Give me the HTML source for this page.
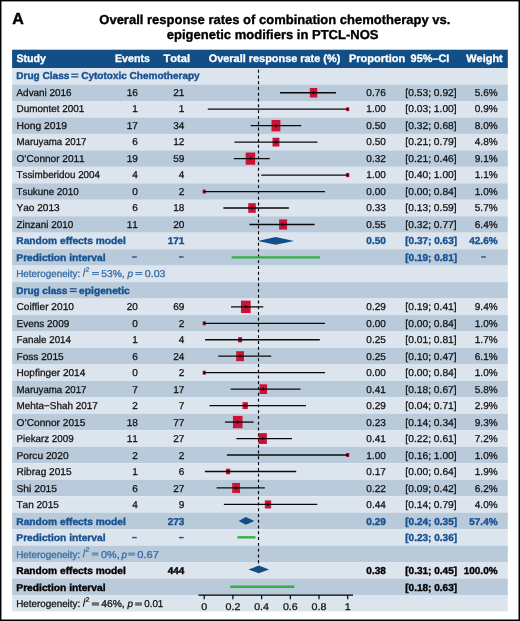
<!DOCTYPE html>
<html><head><meta charset="utf-8"><style>
html,body{margin:0;padding:0;background:#fff;width:520px;height:621px;overflow:hidden;}
svg{display:block;will-change:transform;}
text{font-family:"Liberation Sans", sans-serif;font-kerning:none;}
</style></head><body>
<svg width="520" height="621" viewBox="0 0 520 621" font-family="Liberation Sans, sans-serif" text-rendering="geometricPrecision">
<rect x="0" y="0" width="520" height="621" fill="#000"/>
<rect x="1.45" y="1.4" width="517.05" height="618.10" fill="#fff"/>
<text x="12.3" y="23.75" font-size="16" font-weight="bold" fill="#000" stroke="#000" stroke-width="0.45">A</text>
<text x="99.3" y="23.6" font-size="13" font-weight="bold" fill="#000" stroke="#000" stroke-width="0.35">Overall response rates of combination chemotherapy vs.</text>
<text x="166.8" y="38.8" font-size="13" font-weight="bold" fill="#000" stroke="#000" stroke-width="0.35">epigenetic modifiers in PTCL-NOS</text>
<rect x="12.1" y="49.7" width="495.70" height="18.35" fill="#124f87"/>
<rect x="12.1" y="68.05" width="495.70" height="16.47" fill="#dce5ee"/>
<rect x="12.1" y="84.52" width="495.70" height="16.47" fill="#b9cbdb"/>
<rect x="12.1" y="100.98" width="495.70" height="16.47" fill="#dce5ee"/>
<rect x="12.1" y="117.45" width="495.70" height="16.47" fill="#b9cbdb"/>
<rect x="12.1" y="133.92" width="495.70" height="16.47" fill="#dce5ee"/>
<rect x="12.1" y="150.38" width="495.70" height="16.47" fill="#b9cbdb"/>
<rect x="12.1" y="166.85" width="495.70" height="16.47" fill="#dce5ee"/>
<rect x="12.1" y="183.31" width="495.70" height="16.47" fill="#b9cbdb"/>
<rect x="12.1" y="199.78" width="495.70" height="16.47" fill="#dce5ee"/>
<rect x="12.1" y="216.25" width="495.70" height="16.47" fill="#b9cbdb"/>
<rect x="12.1" y="232.71" width="495.70" height="16.47" fill="#dce5ee"/>
<rect x="12.1" y="249.18" width="495.70" height="16.47" fill="#b9cbdb"/>
<rect x="12.1" y="265.65" width="495.70" height="16.47" fill="#dce5ee"/>
<rect x="12.1" y="282.11" width="495.70" height="16.47" fill="#b9cbdb"/>
<rect x="12.1" y="298.58" width="495.70" height="16.47" fill="#dce5ee"/>
<rect x="12.1" y="315.05" width="495.70" height="16.47" fill="#b9cbdb"/>
<rect x="12.1" y="331.51" width="495.70" height="16.47" fill="#dce5ee"/>
<rect x="12.1" y="347.98" width="495.70" height="16.47" fill="#b9cbdb"/>
<rect x="12.1" y="364.44" width="495.70" height="16.47" fill="#dce5ee"/>
<rect x="12.1" y="380.91" width="495.70" height="16.47" fill="#b9cbdb"/>
<rect x="12.1" y="397.38" width="495.70" height="16.47" fill="#dce5ee"/>
<rect x="12.1" y="413.84" width="495.70" height="16.47" fill="#b9cbdb"/>
<rect x="12.1" y="430.31" width="495.70" height="16.47" fill="#dce5ee"/>
<rect x="12.1" y="446.78" width="495.70" height="16.47" fill="#b9cbdb"/>
<rect x="12.1" y="463.24" width="495.70" height="16.47" fill="#dce5ee"/>
<rect x="12.1" y="479.71" width="495.70" height="16.47" fill="#b9cbdb"/>
<rect x="12.1" y="496.18" width="495.70" height="16.47" fill="#dce5ee"/>
<rect x="12.1" y="512.64" width="495.70" height="16.47" fill="#b9cbdb"/>
<rect x="12.1" y="529.11" width="495.70" height="16.47" fill="#dce5ee"/>
<rect x="12.1" y="545.57" width="495.70" height="16.47" fill="#b9cbdb"/>
<rect x="12.1" y="562.04" width="495.70" height="16.47" fill="#dce5ee"/>
<rect x="12.1" y="578.51" width="495.70" height="16.47" fill="#b9cbdb"/>
<rect x="12.1" y="594.97" width="495.70" height="16.47" fill="#dce5ee"/>
<line x1="198.4" y1="595.05" x2="353" y2="595.05" stroke="#000" stroke-width="1.3"/>
<line x1="204.20" y1="595.05" x2="204.20" y2="599.25" stroke="#000" stroke-width="1.2"/>
<line x1="232.90" y1="595.05" x2="232.90" y2="599.25" stroke="#000" stroke-width="1.2"/>
<line x1="261.60" y1="595.05" x2="261.60" y2="599.25" stroke="#000" stroke-width="1.2"/>
<line x1="290.30" y1="595.05" x2="290.30" y2="599.25" stroke="#000" stroke-width="1.2"/>
<line x1="319.00" y1="595.05" x2="319.00" y2="599.25" stroke="#000" stroke-width="1.2"/>
<line x1="347.70" y1="595.05" x2="347.70" y2="599.25" stroke="#000" stroke-width="1.2"/>
<line x1="258.5" y1="69.75" x2="258.5" y2="563.5" stroke="#000" stroke-width="1.15" stroke-dasharray="2.95 2.82"/>
<rect x="309.81" y="87.98" width="7.45" height="9.54" fill="#cc1236"/>
<line x1="280.02" y1="92.75" x2="335.91" y2="92.75" stroke="#0a0a0a" stroke-width="1.3"/>
<polygon points="312.53,92.75 313.53,90.95 314.53,92.75 313.53,94.55" fill="#000"/>
<rect x="346.21" y="107.30" width="2.99" height="3.83" fill="#cc1236"/>
<line x1="207.79" y1="109.22" x2="347.70" y2="109.22" stroke="#0a0a0a" stroke-width="1.3"/>
<polygon points="346.70,109.22 347.70,107.42 348.70,109.22 347.70,111.02" fill="#000"/>
<rect x="271.50" y="119.98" width="8.91" height="11.40" fill="#cc1236"/>
<line x1="250.73" y1="125.68" x2="301.17" y2="125.68" stroke="#0a0a0a" stroke-width="1.3"/>
<polygon points="274.95,125.68 275.95,123.88 276.95,125.68 275.95,127.48" fill="#000"/>
<rect x="272.50" y="137.73" width="6.90" height="8.83" fill="#cc1236"/>
<line x1="234.47" y1="142.15" x2="317.43" y2="142.15" stroke="#0a0a0a" stroke-width="1.3"/>
<polygon points="274.95,142.15 275.95,140.35 276.95,142.15 275.95,143.95" fill="#000"/>
<rect x="245.66" y="152.53" width="9.50" height="12.16" fill="#cc1236"/>
<line x1="233.80" y1="158.62" x2="269.69" y2="158.62" stroke="#0a0a0a" stroke-width="1.3"/>
<polygon points="249.41,158.62 250.41,156.81 251.41,158.62 250.41,160.42" fill="#000"/>
<rect x="346.05" y="172.97" width="3.30" height="4.23" fill="#cc1236"/>
<line x1="261.26" y1="175.08" x2="347.70" y2="175.08" stroke="#0a0a0a" stroke-width="1.3"/>
<polygon points="346.70,175.08 347.70,173.28 348.70,175.08 347.70,176.88" fill="#000"/>
<rect x="202.62" y="189.53" width="3.15" height="4.03" fill="#cc1236"/>
<line x1="204.20" y1="191.55" x2="325.01" y2="191.55" stroke="#0a0a0a" stroke-width="1.3"/>
<polygon points="203.20,191.55 204.20,189.75 205.20,191.55 204.20,193.35" fill="#000"/>
<rect x="248.27" y="203.20" width="7.52" height="9.63" fill="#cc1236"/>
<line x1="223.35" y1="208.01" x2="288.88" y2="208.01" stroke="#0a0a0a" stroke-width="1.3"/>
<polygon points="251.03,208.01 252.03,206.21 253.03,208.01 252.03,209.81" fill="#000"/>
<rect x="279.14" y="219.38" width="7.97" height="10.20" fill="#cc1236"/>
<line x1="249.44" y1="224.48" x2="314.61" y2="224.48" stroke="#0a0a0a" stroke-width="1.3"/>
<polygon points="282.12,224.48 283.12,222.68 284.12,224.48 283.12,226.28" fill="#000"/>
<polygon points="257.73,240.95 275.66,237.10 294.03,240.95 275.66,244.80" fill="#124f87"/>
<line x1="231.66" y1="257.41" x2="320.13" y2="257.41" stroke="#33af46" stroke-width="2.4"/>
<rect x="240.97" y="300.63" width="9.66" height="12.36" fill="#cc1236"/>
<line x1="231.02" y1="306.81" x2="263.26" y2="306.81" stroke="#0a0a0a" stroke-width="1.3"/>
<polygon points="244.79,306.81 245.79,305.01 246.79,306.81 245.79,308.61" fill="#000"/>
<rect x="202.62" y="321.26" width="3.15" height="4.03" fill="#cc1236"/>
<line x1="204.20" y1="323.28" x2="325.01" y2="323.28" stroke="#0a0a0a" stroke-width="1.3"/>
<polygon points="203.20,323.28 204.20,321.48 205.20,323.28 204.20,325.08" fill="#000"/>
<rect x="238.02" y="337.12" width="4.11" height="5.26" fill="#cc1236"/>
<line x1="205.11" y1="339.75" x2="319.84" y2="339.75" stroke="#0a0a0a" stroke-width="1.3"/>
<polygon points="239.07,339.75 240.07,337.95 241.07,339.75 240.07,341.55" fill="#000"/>
<rect x="236.19" y="351.23" width="7.78" height="9.96" fill="#cc1236"/>
<line x1="218.22" y1="356.21" x2="271.23" y2="356.21" stroke="#0a0a0a" stroke-width="1.3"/>
<polygon points="239.07,356.21 240.07,354.41 241.07,356.21 240.07,358.01" fill="#000"/>
<rect x="202.62" y="370.66" width="3.15" height="4.03" fill="#cc1236"/>
<line x1="204.20" y1="372.68" x2="325.01" y2="372.68" stroke="#0a0a0a" stroke-width="1.3"/>
<polygon points="203.20,372.68 204.20,370.88 205.20,372.68 204.20,374.48" fill="#000"/>
<rect x="259.50" y="384.29" width="7.59" height="9.71" fill="#cc1236"/>
<line x1="230.67" y1="389.14" x2="300.45" y2="389.14" stroke="#0a0a0a" stroke-width="1.3"/>
<polygon points="262.29,389.14 263.29,387.34 264.29,389.14 263.29,390.94" fill="#000"/>
<rect x="242.52" y="402.18" width="5.36" height="6.87" fill="#cc1236"/>
<line x1="209.47" y1="405.61" x2="306.02" y2="405.61" stroke="#0a0a0a" stroke-width="1.3"/>
<polygon points="244.20,405.61 245.20,403.81 246.20,405.61 245.20,407.41" fill="#000"/>
<rect x="232.94" y="415.93" width="9.61" height="12.30" fill="#cc1236"/>
<line x1="224.98" y1="422.08" x2="253.57" y2="422.08" stroke="#0a0a0a" stroke-width="1.3"/>
<polygon points="236.75,422.08 237.75,420.28 238.75,422.08 237.75,423.88" fill="#000"/>
<rect x="258.44" y="433.13" width="8.45" height="10.82" fill="#cc1236"/>
<line x1="236.33" y1="438.54" x2="292.02" y2="438.54" stroke="#0a0a0a" stroke-width="1.3"/>
<polygon points="261.66,438.54 262.66,436.74 263.66,438.54 262.66,440.34" fill="#000"/>
<rect x="346.12" y="452.99" width="3.15" height="4.03" fill="#cc1236"/>
<line x1="226.89" y1="455.01" x2="347.70" y2="455.01" stroke="#0a0a0a" stroke-width="1.3"/>
<polygon points="346.70,455.01 347.70,453.21 348.70,455.01 347.70,456.81" fill="#000"/>
<rect x="225.95" y="468.70" width="4.34" height="5.56" fill="#cc1236"/>
<line x1="204.80" y1="471.48" x2="296.22" y2="471.48" stroke="#0a0a0a" stroke-width="1.3"/>
<polygon points="227.12,471.48 228.12,469.68 229.12,471.48 228.12,473.28" fill="#000"/>
<rect x="232.17" y="482.92" width="7.84" height="10.04" fill="#cc1236"/>
<line x1="216.57" y1="487.94" x2="264.84" y2="487.94" stroke="#0a0a0a" stroke-width="1.3"/>
<polygon points="235.09,487.94 236.09,486.14 237.09,487.94 236.09,489.74" fill="#000"/>
<rect x="264.83" y="500.38" width="6.30" height="8.06" fill="#cc1236"/>
<line x1="223.86" y1="504.41" x2="317.28" y2="504.41" stroke="#0a0a0a" stroke-width="1.3"/>
<polygon points="266.98,504.41 267.98,502.61 268.98,504.41 267.98,506.21" fill="#000"/>
<polygon points="238.64,520.88 245.81,517.02 254.42,520.88 245.81,524.73" fill="#124f87"/>
<line x1="237.40" y1="537.34" x2="255.56" y2="537.34" stroke="#33af46" stroke-width="2.4"/>
<polygon points="248.38,569.47 258.73,565.62 269.07,569.47 258.73,573.32" fill="#124f87"/>
<line x1="230.23" y1="586.74" x2="294.31" y2="586.74" stroke="#33af46" stroke-width="2.4"/>
<text transform="translate(16.49,62.20) scale(0.9821,1)" font-size="10.8" font-weight="bold" fill="#ffffff" stroke="#ffffff" stroke-width="0.32">Study</text>
<text transform="translate(114.99,62.20) scale(0.9839,1)" font-size="10.8" font-weight="bold" fill="#ffffff" stroke="#ffffff" stroke-width="0.32">Events</text>
<text transform="translate(163.48,62.20) scale(1.0276,1)" font-size="10.8" font-weight="bold" fill="#ffffff" stroke="#ffffff" stroke-width="0.32">Total</text>
<text transform="translate(208.75,62.20) scale(1.0103,1)" font-size="10.8" font-weight="bold" fill="#ffffff" stroke="#ffffff" stroke-width="0.32">Overall response rate (%)</text>
<text transform="translate(348.96,62.20) scale(1.0205,1)" font-size="10.8" font-weight="bold" fill="#ffffff" stroke="#ffffff" stroke-width="0.32">Proportion</text>
<text transform="translate(410.62,62.20) scale(1.0074,1)" font-size="10.8" font-weight="bold" fill="#ffffff" stroke="#ffffff" stroke-width="0.32">95%–CI</text>
<text transform="translate(466.29,62.20) scale(1.0126,1)" font-size="10.8" font-weight="bold" fill="#ffffff" stroke="#ffffff" stroke-width="0.32">Weight</text>
<text transform="translate(16.33,78.76) scale(1.0036,1)" font-size="10.0" font-weight="bold" fill="#175190" stroke="#175190" stroke-width="0.38">Drug Class</text>
<text transform="translate(81.19,78.76) scale(1.0009,1)" font-size="10.0" font-weight="bold" fill="#175190" stroke="#175190" stroke-width="0.38">Cytotoxic Chemotherapy</text>
<text transform="translate(16.50,95.52) scale(0.9916,1)" font-size="10.0" fill="#121212" stroke="#121212" stroke-width="0.27">Advani 2016</text>
<text transform="translate(126.68,95.52) scale(1.0000,1)" font-size="10.0" fill="#121212" stroke="#121212" stroke-width="0.27">16</text>
<text transform="translate(173.28,95.52) scale(1.0000,1)" font-size="10.0" fill="#121212" stroke="#121212" stroke-width="0.27">21</text>
<text transform="translate(366.34,95.52) scale(1.0000,1)" font-size="10.0" fill="#121212" stroke="#121212" stroke-width="0.27">0.76</text>
<text transform="translate(405.37,95.52) scale(1.0244,1)" font-size="10.0" fill="#121212" stroke="#121212" stroke-width="0.27">[0.53; 0.92]</text>
<text transform="translate(474.81,95.52) scale(1.0000,1)" font-size="10.0" fill="#121212" stroke="#121212" stroke-width="0.27">5.6%</text>
<text transform="translate(16.51,112.03) scale(0.9912,1)" font-size="10.0" fill="#121212" stroke="#121212" stroke-width="0.27">Dumontet 2001</text>
<text transform="translate(132.24,112.03) scale(1.0000,1)" font-size="10.0" fill="#121212" stroke="#121212" stroke-width="0.27">1</text>
<text transform="translate(178.84,112.03) scale(1.0000,1)" font-size="10.0" fill="#121212" stroke="#121212" stroke-width="0.27">1</text>
<text transform="translate(366.34,112.03) scale(1.0000,1)" font-size="10.0" fill="#121212" stroke="#121212" stroke-width="0.27">1.00</text>
<text transform="translate(405.37,112.03) scale(1.0244,1)" font-size="10.0" fill="#121212" stroke="#121212" stroke-width="0.27">[0.03; 1.00]</text>
<text transform="translate(474.81,112.03) scale(1.0000,1)" font-size="10.0" fill="#121212" stroke="#121212" stroke-width="0.27">0.9%</text>
<text transform="translate(16.48,128.53) scale(1.0303,1)" font-size="10.0" fill="#121212" stroke="#121212" stroke-width="0.27">Hong 2019</text>
<text transform="translate(126.68,128.53) scale(1.0000,1)" font-size="10.0" fill="#121212" stroke="#121212" stroke-width="0.27">17</text>
<text transform="translate(173.28,128.53) scale(1.0000,1)" font-size="10.0" fill="#121212" stroke="#121212" stroke-width="0.27">34</text>
<text transform="translate(366.34,128.53) scale(1.0000,1)" font-size="10.0" fill="#121212" stroke="#121212" stroke-width="0.27">0.50</text>
<text transform="translate(405.37,128.53) scale(1.0244,1)" font-size="10.0" fill="#121212" stroke="#121212" stroke-width="0.27">[0.32; 0.68]</text>
<text transform="translate(474.81,128.53) scale(1.0000,1)" font-size="10.0" fill="#121212" stroke="#121212" stroke-width="0.27">8.0%</text>
<text transform="translate(16.53,145.04) scale(0.9668,1)" font-size="10.0" fill="#121212" stroke="#121212" stroke-width="0.27">Maruyama 2017</text>
<text transform="translate(132.24,145.04) scale(1.0000,1)" font-size="10.0" fill="#121212" stroke="#121212" stroke-width="0.27">6</text>
<text transform="translate(173.28,145.04) scale(1.0000,1)" font-size="10.0" fill="#121212" stroke="#121212" stroke-width="0.27">12</text>
<text transform="translate(366.34,145.04) scale(1.0000,1)" font-size="10.0" fill="#121212" stroke="#121212" stroke-width="0.27">0.50</text>
<text transform="translate(405.37,145.04) scale(1.0244,1)" font-size="10.0" fill="#121212" stroke="#121212" stroke-width="0.27">[0.21; 0.79]</text>
<text transform="translate(474.81,145.04) scale(1.0000,1)" font-size="10.0" fill="#121212" stroke="#121212" stroke-width="0.27">4.8%</text>
<text transform="translate(16.50,161.54) scale(1.0055,1)" font-size="10.0" fill="#121212" stroke="#121212" stroke-width="0.27">O’Connor 2011</text>
<text transform="translate(126.68,161.54) scale(1.0000,1)" font-size="10.0" fill="#121212" stroke="#121212" stroke-width="0.27">19</text>
<text transform="translate(173.28,161.54) scale(1.0000,1)" font-size="10.0" fill="#121212" stroke="#121212" stroke-width="0.27">59</text>
<text transform="translate(366.34,161.54) scale(1.0000,1)" font-size="10.0" fill="#121212" stroke="#121212" stroke-width="0.27">0.32</text>
<text transform="translate(405.37,161.54) scale(1.0244,1)" font-size="10.0" fill="#121212" stroke="#121212" stroke-width="0.27">[0.21; 0.46]</text>
<text transform="translate(474.81,161.54) scale(1.0000,1)" font-size="10.0" fill="#121212" stroke="#121212" stroke-width="0.27">9.1%</text>
<text transform="translate(16.50,178.05) scale(0.9817,1)" font-size="10.0" fill="#121212" stroke="#121212" stroke-width="0.27">Tssimberidou 2004</text>
<text transform="translate(132.24,178.05) scale(1.0000,1)" font-size="10.0" fill="#121212" stroke="#121212" stroke-width="0.27">4</text>
<text transform="translate(178.84,178.05) scale(1.0000,1)" font-size="10.0" fill="#121212" stroke="#121212" stroke-width="0.27">4</text>
<text transform="translate(366.34,178.05) scale(1.0000,1)" font-size="10.0" fill="#121212" stroke="#121212" stroke-width="0.27">1.00</text>
<text transform="translate(405.37,178.05) scale(1.0244,1)" font-size="10.0" fill="#121212" stroke="#121212" stroke-width="0.27">[0.40; 1.00]</text>
<text transform="translate(474.81,178.05) scale(1.0000,1)" font-size="10.0" fill="#121212" stroke="#121212" stroke-width="0.27">1.1%</text>
<text transform="translate(16.50,194.56) scale(0.9811,1)" font-size="10.0" fill="#121212" stroke="#121212" stroke-width="0.27">Tsukune 2010</text>
<text transform="translate(132.24,194.56) scale(1.0000,1)" font-size="10.0" fill="#121212" stroke="#121212" stroke-width="0.27">0</text>
<text transform="translate(178.84,194.56) scale(1.0000,1)" font-size="10.0" fill="#121212" stroke="#121212" stroke-width="0.27">2</text>
<text transform="translate(366.34,194.56) scale(1.0000,1)" font-size="10.0" fill="#121212" stroke="#121212" stroke-width="0.27">0.00</text>
<text transform="translate(405.37,194.56) scale(1.0244,1)" font-size="10.0" fill="#121212" stroke="#121212" stroke-width="0.27">[0.00; 0.84]</text>
<text transform="translate(474.81,194.56) scale(1.0000,1)" font-size="10.0" fill="#121212" stroke="#121212" stroke-width="0.27">1.0%</text>
<text transform="translate(16.50,211.06) scale(1.0076,1)" font-size="10.0" fill="#121212" stroke="#121212" stroke-width="0.27">Yao 2013</text>
<text transform="translate(132.24,211.06) scale(1.0000,1)" font-size="10.0" fill="#121212" stroke="#121212" stroke-width="0.27">6</text>
<text transform="translate(173.28,211.06) scale(1.0000,1)" font-size="10.0" fill="#121212" stroke="#121212" stroke-width="0.27">18</text>
<text transform="translate(366.34,211.06) scale(1.0000,1)" font-size="10.0" fill="#121212" stroke="#121212" stroke-width="0.27">0.33</text>
<text transform="translate(405.37,211.06) scale(1.0244,1)" font-size="10.0" fill="#121212" stroke="#121212" stroke-width="0.27">[0.13; 0.59]</text>
<text transform="translate(474.81,211.06) scale(1.0000,1)" font-size="10.0" fill="#121212" stroke="#121212" stroke-width="0.27">5.7%</text>
<text transform="translate(16.50,227.57) scale(0.9899,1)" font-size="10.0" fill="#121212" stroke="#121212" stroke-width="0.27">Zinzani 2010</text>
<text transform="translate(126.68,227.57) scale(1.0000,1)" font-size="10.0" fill="#121212" stroke="#121212" stroke-width="0.27">11</text>
<text transform="translate(173.28,227.57) scale(1.0000,1)" font-size="10.0" fill="#121212" stroke="#121212" stroke-width="0.27">20</text>
<text transform="translate(366.34,227.57) scale(1.0000,1)" font-size="10.0" fill="#121212" stroke="#121212" stroke-width="0.27">0.55</text>
<text transform="translate(405.37,227.57) scale(1.0244,1)" font-size="10.0" fill="#121212" stroke="#121212" stroke-width="0.27">[0.32; 0.77]</text>
<text transform="translate(474.81,227.57) scale(1.0000,1)" font-size="10.0" fill="#121212" stroke="#121212" stroke-width="0.27">6.4%</text>
<text transform="translate(16.32,244.07) scale(1.0202,1)" font-size="10.0" font-weight="bold" fill="#175190" stroke="#175190" stroke-width="0.38">Random effects model</text>
<text transform="translate(167.72,244.07) scale(1.0000,1)" font-size="10.0" font-weight="bold" fill="#175190" stroke="#175190" stroke-width="0.38">171</text>
<text transform="translate(366.34,244.07) scale(1.0000,1)" font-size="10.0" font-weight="bold" fill="#175190" stroke="#175190" stroke-width="0.38">0.50</text>
<text transform="translate(405.24,244.07) scale(1.0025,1)" font-size="10.0" font-weight="bold" fill="#175190" stroke="#175190" stroke-width="0.38">[0.37; 0.63]</text>
<text transform="translate(469.25,244.07) scale(1.0000,1)" font-size="10.0" font-weight="bold" fill="#175190" stroke="#175190" stroke-width="0.38">42.6%</text>
<text transform="translate(16.32,260.58) scale(1.0225,1)" font-size="10.0" font-weight="bold" fill="#175190" stroke="#175190" stroke-width="0.38">Prediction interval</text>
<text transform="translate(405.24,260.58) scale(1.0025,1)" font-size="10.0" font-weight="bold" fill="#175190" stroke="#175190" stroke-width="0.38">[0.19; 0.81]</text>
<text transform="translate(16.19,277.09) scale(0.9841,1)" font-size="10.0" fill="#336ba4" stroke="#336ba4" stroke-width="0.27">Heterogeneity:</text>
<text transform="translate(85.44,271.84) scale(1.0348,1)" font-size="7.0" fill="#336ba4" stroke="#336ba4" stroke-width="0.18">2</text>
<text transform="translate(101.19,277.09) scale(1.0282,1)" font-size="10.0" fill="#336ba4" stroke="#336ba4" stroke-width="0.27">53%,</text>
<text transform="translate(127.45,277.09) scale(1.0000,1)" font-size="10.0" font-style="italic" fill="#336ba4" stroke="#336ba4" stroke-width="0.27">p</text>
<text transform="translate(144.78,277.09) scale(1.0626,1)" font-size="10.0" fill="#336ba4" stroke="#336ba4" stroke-width="0.27">0.03</text>
<text transform="translate(16.33,293.59) scale(0.9969,1)" font-size="10.0" font-weight="bold" fill="#175190" stroke="#175190" stroke-width="0.38">Drug class</text>
<text transform="translate(79.10,293.59) scale(1.0251,1)" font-size="10.0" font-weight="bold" fill="#175190" stroke="#175190" stroke-width="0.38">epigenetic</text>
<text transform="translate(16.49,310.10) scale(1.0124,1)" font-size="10.0" fill="#121212" stroke="#121212" stroke-width="0.27">Coiffier 2010</text>
<text transform="translate(126.68,310.10) scale(1.0000,1)" font-size="10.0" fill="#121212" stroke="#121212" stroke-width="0.27">20</text>
<text transform="translate(173.28,310.10) scale(1.0000,1)" font-size="10.0" fill="#121212" stroke="#121212" stroke-width="0.27">69</text>
<text transform="translate(366.34,310.10) scale(1.0000,1)" font-size="10.0" fill="#121212" stroke="#121212" stroke-width="0.27">0.29</text>
<text transform="translate(405.37,310.10) scale(1.0244,1)" font-size="10.0" fill="#121212" stroke="#121212" stroke-width="0.27">[0.19; 0.41]</text>
<text transform="translate(474.81,310.10) scale(1.0000,1)" font-size="10.0" fill="#121212" stroke="#121212" stroke-width="0.27">9.4%</text>
<text transform="translate(16.50,326.60) scale(0.9992,1)" font-size="10.0" fill="#121212" stroke="#121212" stroke-width="0.27">Evens 2009</text>
<text transform="translate(132.24,326.60) scale(1.0000,1)" font-size="10.0" fill="#121212" stroke="#121212" stroke-width="0.27">0</text>
<text transform="translate(178.84,326.60) scale(1.0000,1)" font-size="10.0" fill="#121212" stroke="#121212" stroke-width="0.27">2</text>
<text transform="translate(366.34,326.60) scale(1.0000,1)" font-size="10.0" fill="#121212" stroke="#121212" stroke-width="0.27">0.00</text>
<text transform="translate(405.37,326.60) scale(1.0244,1)" font-size="10.0" fill="#121212" stroke="#121212" stroke-width="0.27">[0.00; 0.84]</text>
<text transform="translate(474.81,326.60) scale(1.0000,1)" font-size="10.0" fill="#121212" stroke="#121212" stroke-width="0.27">1.0%</text>
<text transform="translate(16.52,343.11) scale(0.9797,1)" font-size="10.0" fill="#121212" stroke="#121212" stroke-width="0.27">Fanale 2014</text>
<text transform="translate(132.24,343.11) scale(1.0000,1)" font-size="10.0" fill="#121212" stroke="#121212" stroke-width="0.27">1</text>
<text transform="translate(178.84,343.11) scale(1.0000,1)" font-size="10.0" fill="#121212" stroke="#121212" stroke-width="0.27">4</text>
<text transform="translate(366.34,343.11) scale(1.0000,1)" font-size="10.0" fill="#121212" stroke="#121212" stroke-width="0.27">0.25</text>
<text transform="translate(405.37,343.11) scale(1.0244,1)" font-size="10.0" fill="#121212" stroke="#121212" stroke-width="0.27">[0.01; 0.81]</text>
<text transform="translate(474.81,343.11) scale(1.0000,1)" font-size="10.0" fill="#121212" stroke="#121212" stroke-width="0.27">1.7%</text>
<text transform="translate(16.49,359.62) scale(1.0116,1)" font-size="10.0" fill="#121212" stroke="#121212" stroke-width="0.27">Foss 2015</text>
<text transform="translate(132.24,359.62) scale(1.0000,1)" font-size="10.0" fill="#121212" stroke="#121212" stroke-width="0.27">6</text>
<text transform="translate(173.28,359.62) scale(1.0000,1)" font-size="10.0" fill="#121212" stroke="#121212" stroke-width="0.27">24</text>
<text transform="translate(366.34,359.62) scale(1.0000,1)" font-size="10.0" fill="#121212" stroke="#121212" stroke-width="0.27">0.25</text>
<text transform="translate(405.37,359.62) scale(1.0244,1)" font-size="10.0" fill="#121212" stroke="#121212" stroke-width="0.27">[0.10; 0.47]</text>
<text transform="translate(474.81,359.62) scale(1.0000,1)" font-size="10.0" fill="#121212" stroke="#121212" stroke-width="0.27">6.1%</text>
<text transform="translate(16.50,376.12) scale(1.0061,1)" font-size="10.0" fill="#121212" stroke="#121212" stroke-width="0.27">Hopfinger 2014</text>
<text transform="translate(132.24,376.12) scale(1.0000,1)" font-size="10.0" fill="#121212" stroke="#121212" stroke-width="0.27">0</text>
<text transform="translate(178.84,376.12) scale(1.0000,1)" font-size="10.0" fill="#121212" stroke="#121212" stroke-width="0.27">2</text>
<text transform="translate(366.34,376.12) scale(1.0000,1)" font-size="10.0" fill="#121212" stroke="#121212" stroke-width="0.27">0.00</text>
<text transform="translate(405.37,376.12) scale(1.0244,1)" font-size="10.0" fill="#121212" stroke="#121212" stroke-width="0.27">[0.00; 0.84]</text>
<text transform="translate(474.81,376.12) scale(1.0000,1)" font-size="10.0" fill="#121212" stroke="#121212" stroke-width="0.27">1.0%</text>
<text transform="translate(16.53,392.63) scale(0.9668,1)" font-size="10.0" fill="#121212" stroke="#121212" stroke-width="0.27">Maruyama 2017</text>
<text transform="translate(132.24,392.63) scale(1.0000,1)" font-size="10.0" fill="#121212" stroke="#121212" stroke-width="0.27">7</text>
<text transform="translate(173.28,392.63) scale(1.0000,1)" font-size="10.0" fill="#121212" stroke="#121212" stroke-width="0.27">17</text>
<text transform="translate(366.34,392.63) scale(1.0000,1)" font-size="10.0" fill="#121212" stroke="#121212" stroke-width="0.27">0.41</text>
<text transform="translate(405.37,392.63) scale(1.0244,1)" font-size="10.0" fill="#121212" stroke="#121212" stroke-width="0.27">[0.18; 0.67]</text>
<text transform="translate(474.81,392.63) scale(1.0000,1)" font-size="10.0" fill="#121212" stroke="#121212" stroke-width="0.27">5.8%</text>
<text transform="translate(16.51,409.13) scale(0.9912,1)" font-size="10.0" fill="#121212" stroke="#121212" stroke-width="0.27">Mehta−Shah 2017</text>
<text transform="translate(132.24,409.13) scale(1.0000,1)" font-size="10.0" fill="#121212" stroke="#121212" stroke-width="0.27">2</text>
<text transform="translate(178.84,409.13) scale(1.0000,1)" font-size="10.0" fill="#121212" stroke="#121212" stroke-width="0.27">7</text>
<text transform="translate(366.34,409.13) scale(1.0000,1)" font-size="10.0" fill="#121212" stroke="#121212" stroke-width="0.27">0.29</text>
<text transform="translate(405.37,409.13) scale(1.0244,1)" font-size="10.0" fill="#121212" stroke="#121212" stroke-width="0.27">[0.04; 0.71]</text>
<text transform="translate(474.81,409.13) scale(1.0000,1)" font-size="10.0" fill="#121212" stroke="#121212" stroke-width="0.27">2.9%</text>
<text transform="translate(16.49,425.64) scale(1.0164,1)" font-size="10.0" fill="#121212" stroke="#121212" stroke-width="0.27">O’Connor 2015</text>
<text transform="translate(126.68,425.64) scale(1.0000,1)" font-size="10.0" fill="#121212" stroke="#121212" stroke-width="0.27">18</text>
<text transform="translate(173.28,425.64) scale(1.0000,1)" font-size="10.0" fill="#121212" stroke="#121212" stroke-width="0.27">77</text>
<text transform="translate(366.34,425.64) scale(1.0000,1)" font-size="10.0" fill="#121212" stroke="#121212" stroke-width="0.27">0.23</text>
<text transform="translate(405.37,425.64) scale(1.0244,1)" font-size="10.0" fill="#121212" stroke="#121212" stroke-width="0.27">[0.14; 0.34]</text>
<text transform="translate(474.81,425.64) scale(1.0000,1)" font-size="10.0" fill="#121212" stroke="#121212" stroke-width="0.27">9.3%</text>
<text transform="translate(16.52,442.15) scale(0.9773,1)" font-size="10.0" fill="#121212" stroke="#121212" stroke-width="0.27">Piekarz 2009</text>
<text transform="translate(126.68,442.15) scale(1.0000,1)" font-size="10.0" fill="#121212" stroke="#121212" stroke-width="0.27">11</text>
<text transform="translate(173.28,442.15) scale(1.0000,1)" font-size="10.0" fill="#121212" stroke="#121212" stroke-width="0.27">27</text>
<text transform="translate(366.34,442.15) scale(1.0000,1)" font-size="10.0" fill="#121212" stroke="#121212" stroke-width="0.27">0.41</text>
<text transform="translate(405.37,442.15) scale(1.0244,1)" font-size="10.0" fill="#121212" stroke="#121212" stroke-width="0.27">[0.22; 0.61]</text>
<text transform="translate(474.81,442.15) scale(1.0000,1)" font-size="10.0" fill="#121212" stroke="#121212" stroke-width="0.27">7.2%</text>
<text transform="translate(16.48,458.65) scale(1.0189,1)" font-size="10.0" fill="#121212" stroke="#121212" stroke-width="0.27">Porcu 2020</text>
<text transform="translate(132.24,458.65) scale(1.0000,1)" font-size="10.0" fill="#121212" stroke="#121212" stroke-width="0.27">2</text>
<text transform="translate(178.84,458.65) scale(1.0000,1)" font-size="10.0" fill="#121212" stroke="#121212" stroke-width="0.27">2</text>
<text transform="translate(366.34,458.65) scale(1.0000,1)" font-size="10.0" fill="#121212" stroke="#121212" stroke-width="0.27">1.00</text>
<text transform="translate(405.37,458.65) scale(1.0244,1)" font-size="10.0" fill="#121212" stroke="#121212" stroke-width="0.27">[0.16; 1.00]</text>
<text transform="translate(474.81,458.65) scale(1.0000,1)" font-size="10.0" fill="#121212" stroke="#121212" stroke-width="0.27">1.0%</text>
<text transform="translate(16.49,475.16) scale(1.0120,1)" font-size="10.0" fill="#121212" stroke="#121212" stroke-width="0.27">Ribrag 2015</text>
<text transform="translate(132.24,475.16) scale(1.0000,1)" font-size="10.0" fill="#121212" stroke="#121212" stroke-width="0.27">1</text>
<text transform="translate(178.84,475.16) scale(1.0000,1)" font-size="10.0" fill="#121212" stroke="#121212" stroke-width="0.27">6</text>
<text transform="translate(366.34,475.16) scale(1.0000,1)" font-size="10.0" fill="#121212" stroke="#121212" stroke-width="0.27">0.17</text>
<text transform="translate(405.37,475.16) scale(1.0244,1)" font-size="10.0" fill="#121212" stroke="#121212" stroke-width="0.27">[0.00; 0.64]</text>
<text transform="translate(474.81,475.16) scale(1.0000,1)" font-size="10.0" fill="#121212" stroke="#121212" stroke-width="0.27">1.9%</text>
<text transform="translate(16.49,491.66) scale(1.0270,1)" font-size="10.0" fill="#121212" stroke="#121212" stroke-width="0.27">Shi 2015</text>
<text transform="translate(132.24,491.66) scale(1.0000,1)" font-size="10.0" fill="#121212" stroke="#121212" stroke-width="0.27">6</text>
<text transform="translate(173.28,491.66) scale(1.0000,1)" font-size="10.0" fill="#121212" stroke="#121212" stroke-width="0.27">27</text>
<text transform="translate(366.34,491.66) scale(1.0000,1)" font-size="10.0" fill="#121212" stroke="#121212" stroke-width="0.27">0.22</text>
<text transform="translate(405.37,491.66) scale(1.0244,1)" font-size="10.0" fill="#121212" stroke="#121212" stroke-width="0.27">[0.09; 0.42]</text>
<text transform="translate(474.81,491.66) scale(1.0000,1)" font-size="10.0" fill="#121212" stroke="#121212" stroke-width="0.27">6.2%</text>
<text transform="translate(16.50,508.17) scale(1.0015,1)" font-size="10.0" fill="#121212" stroke="#121212" stroke-width="0.27">Tan 2015</text>
<text transform="translate(132.24,508.17) scale(1.0000,1)" font-size="10.0" fill="#121212" stroke="#121212" stroke-width="0.27">4</text>
<text transform="translate(178.84,508.17) scale(1.0000,1)" font-size="10.0" fill="#121212" stroke="#121212" stroke-width="0.27">9</text>
<text transform="translate(366.34,508.17) scale(1.0000,1)" font-size="10.0" fill="#121212" stroke="#121212" stroke-width="0.27">0.44</text>
<text transform="translate(405.37,508.17) scale(1.0244,1)" font-size="10.0" fill="#121212" stroke="#121212" stroke-width="0.27">[0.14; 0.79]</text>
<text transform="translate(474.81,508.17) scale(1.0000,1)" font-size="10.0" fill="#121212" stroke="#121212" stroke-width="0.27">4.0%</text>
<text transform="translate(16.32,524.68) scale(1.0202,1)" font-size="10.0" font-weight="bold" fill="#175190" stroke="#175190" stroke-width="0.38">Random effects model</text>
<text transform="translate(167.72,524.68) scale(1.0000,1)" font-size="10.0" font-weight="bold" fill="#175190" stroke="#175190" stroke-width="0.38">273</text>
<text transform="translate(366.34,524.68) scale(1.0000,1)" font-size="10.0" font-weight="bold" fill="#175190" stroke="#175190" stroke-width="0.38">0.29</text>
<text transform="translate(405.24,524.68) scale(1.0025,1)" font-size="10.0" font-weight="bold" fill="#175190" stroke="#175190" stroke-width="0.38">[0.24; 0.35]</text>
<text transform="translate(469.25,524.68) scale(1.0000,1)" font-size="10.0" font-weight="bold" fill="#175190" stroke="#175190" stroke-width="0.38">57.4%</text>
<text transform="translate(16.32,541.18) scale(1.0225,1)" font-size="10.0" font-weight="bold" fill="#175190" stroke="#175190" stroke-width="0.38">Prediction interval</text>
<text transform="translate(405.24,541.18) scale(1.0025,1)" font-size="10.0" font-weight="bold" fill="#175190" stroke="#175190" stroke-width="0.38">[0.23; 0.36]</text>
<text transform="translate(16.19,557.69) scale(0.9841,1)" font-size="10.0" fill="#336ba4" stroke="#336ba4" stroke-width="0.27">Heterogeneity:</text>
<text transform="translate(85.44,552.44) scale(1.0348,1)" font-size="7.0" fill="#336ba4" stroke="#336ba4" stroke-width="0.18">2</text>
<text transform="translate(100.98,557.69) scale(1.0852,1)" font-size="10.0" fill="#336ba4" stroke="#336ba4" stroke-width="0.27">0%,</text>
<text transform="translate(121.55,557.69) scale(1.0000,1)" font-size="10.0" font-style="italic" fill="#336ba4" stroke="#336ba4" stroke-width="0.27">p</text>
<text transform="translate(137.26,557.69) scale(1.1147,1)" font-size="10.0" fill="#336ba4" stroke="#336ba4" stroke-width="0.27">0.67</text>
<text transform="translate(16.32,574.19) scale(1.0202,1)" font-size="10.0" font-weight="bold" fill="#000000" stroke="#000000" stroke-width="0.38">Random effects model</text>
<text transform="translate(167.72,574.19) scale(1.0000,1)" font-size="10.0" font-weight="bold" fill="#000000" stroke="#000000" stroke-width="0.38">444</text>
<text transform="translate(366.34,574.19) scale(1.0000,1)" font-size="10.0" font-weight="bold" fill="#000000" stroke="#000000" stroke-width="0.38">0.38</text>
<text transform="translate(405.24,574.19) scale(1.0025,1)" font-size="10.0" font-weight="bold" fill="#000000" stroke="#000000" stroke-width="0.38">[0.31; 0.45]</text>
<text transform="translate(463.68,574.19) scale(1.0000,1)" font-size="10.0" font-weight="bold" fill="#000000" stroke="#000000" stroke-width="0.38">100.0%</text>
<text transform="translate(16.32,590.70) scale(1.0225,1)" font-size="10.0" font-weight="bold" fill="#000000" stroke="#000000" stroke-width="0.38">Prediction interval</text>
<text transform="translate(405.24,590.70) scale(1.0025,1)" font-size="10.0" font-weight="bold" fill="#000000" stroke="#000000" stroke-width="0.38">[0.18; 0.63]</text>
<text transform="translate(16.19,607.21) scale(0.9841,1)" font-size="10.0" fill="#121212" stroke="#121212" stroke-width="0.27">Heterogeneity:</text>
<text transform="translate(85.44,601.96) scale(1.0348,1)" font-size="7.0" fill="#121212" stroke="#121212" stroke-width="0.18">2</text>
<text transform="translate(101.16,607.21) scale(1.0339,1)" font-size="10.0" fill="#121212" stroke="#121212" stroke-width="0.27">46%,</text>
<text transform="translate(127.55,607.21) scale(1.0000,1)" font-size="10.0" font-style="italic" fill="#121212" stroke="#121212" stroke-width="0.27">p</text>
<text transform="translate(144.22,607.21) scale(0.9793,1)" font-size="10.0" fill="#121212" stroke="#121212" stroke-width="0.27">0.01</text>
<text transform="translate(201.23,610.40) scale(1.0900,1)" font-size="9.8" fill="#121212" stroke="#121212" stroke-width="0.27">0</text>
<text transform="translate(225.48,610.40) scale(1.0900,1)" font-size="9.8" fill="#121212" stroke="#121212" stroke-width="0.27">0.2</text>
<text transform="translate(254.18,610.40) scale(1.0900,1)" font-size="9.8" fill="#121212" stroke="#121212" stroke-width="0.27">0.4</text>
<text transform="translate(282.88,610.40) scale(1.0900,1)" font-size="9.8" fill="#121212" stroke="#121212" stroke-width="0.27">0.6</text>
<text transform="translate(311.58,610.40) scale(1.0900,1)" font-size="9.8" fill="#121212" stroke="#121212" stroke-width="0.27">0.8</text>
<text transform="translate(344.73,610.40) scale(1.0900,1)" font-size="9.8" fill="#121212" stroke="#121212" stroke-width="0.27">1</text>
<rect x="71.25" y="73.59" width="7.25" height="1.25" fill="#175190"/>
<rect x="71.25" y="76.24" width="7.25" height="1.25" fill="#175190"/>
<rect x="132.1" y="256.28" width="4.7" height="1.4" fill="#175190"/>
<rect x="179.0" y="256.28" width="4.6" height="1.4" fill="#175190"/>
<rect x="481.2" y="256.28" width="4.6" height="1.4" fill="#175190"/>
<line x1="83.30" y1="276.59" x2="85.00" y2="268.39" stroke="#336ba4" stroke-width="1.05"/>
<rect x="92.00" y="272.06" width="6.90" height="0.95" fill="#336ba4"/>
<rect x="92.00" y="273.91" width="6.90" height="0.95" fill="#336ba4"/>
<rect x="135.40" y="272.06" width="6.90" height="0.95" fill="#336ba4"/>
<rect x="135.40" y="273.91" width="6.90" height="0.95" fill="#336ba4"/>
<rect x="69.80" y="288.17" width="6.90" height="1.25" fill="#175190"/>
<rect x="69.80" y="290.82" width="6.90" height="1.25" fill="#175190"/>
<rect x="132.1" y="536.88" width="4.7" height="1.4" fill="#175190"/>
<rect x="179.0" y="536.88" width="4.6" height="1.4" fill="#175190"/>
<line x1="83.30" y1="557.19" x2="85.00" y2="548.99" stroke="#336ba4" stroke-width="1.05"/>
<rect x="91.80" y="552.66" width="6.60" height="0.95" fill="#336ba4"/>
<rect x="91.80" y="554.51" width="6.60" height="0.95" fill="#336ba4"/>
<rect x="128.20" y="552.66" width="6.90" height="0.95" fill="#336ba4"/>
<rect x="128.20" y="554.51" width="6.90" height="0.95" fill="#336ba4"/>
<line x1="83.30" y1="606.71" x2="85.00" y2="598.51" stroke="#121212" stroke-width="1.05"/>
<rect x="91.80" y="602.26" width="7.30" height="3.45" fill="#6e6e6e"/>
<rect x="135.10" y="602.26" width="6.90" height="3.45" fill="#6e6e6e"/>
</svg>
</body></html>
